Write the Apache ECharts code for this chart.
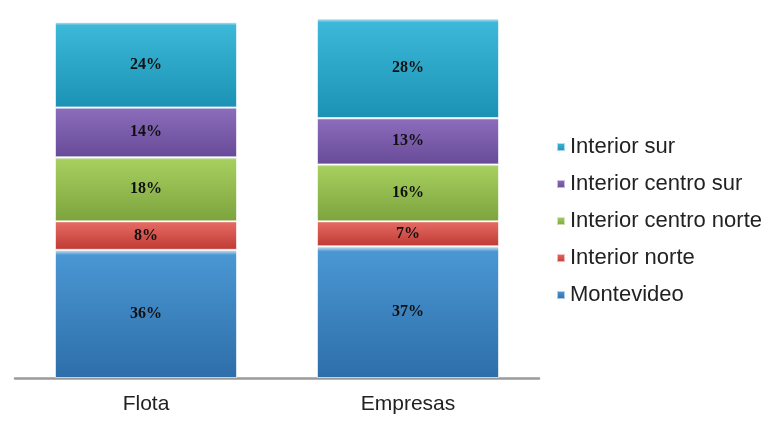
<!DOCTYPE html>
<html><head><meta charset="utf-8">
<script src="https://cdn.jsdelivr.net/npm/echarts@6/dist/echarts.min.js"></script>
<style>html,body{margin:0;padding:0;background:#fff}#c{width:773px;height:421px}</style>
</head><body><div id="c"></div>
<script>
const categories = ['Flota', 'Empresas'];
const montevideo = [36, 37];
const interiorNorte = [8, 7];
const interiorCentroNorte = [18, 16];
const interiorCentroSur = [14, 13];
const interiorSur = [24, 28];
const seriesNames = ['Montevideo', 'Interior norte', 'Interior centro norte', 'Interior centro sur', 'Interior sur'];
const legendOrder = ['Interior sur', 'Interior centro sur', 'Interior centro norte', 'Interior norte', 'Montevideo'];

const colors = [
  ['#4a97d3', '#2d6ea9'],
  ['#e56a64', '#bf3a33'],
  ['#a6cf5f', '#7da33d'],
  ['#8a6cba', '#674a98'],
  ['#3cb8d8', '#1b92b4']
];
const values = [montevideo, interiorNorte, interiorCentroNorte, interiorCentroSur, interiorSur];

function grad(c) {
  return new echarts.graphic.LinearGradient(0, 0, 0, 1, [
    {offset: 0, color: '#dfe8f2'},
    {offset: 0.04, color: c[0]},
    {offset: 1, color: c[1]}
  ]);
}

const series = seriesNames.map((n, i) => ({
  name: n,
  type: 'bar',
  stack: 'total',
  barWidth: 182,
  data: values[i],
  itemStyle: {color: grad(colors[i]), borderColor: 'rgba(255,255,255,0.6)', borderWidth: 1},
  label: {
    show: true, position: 'inside', formatter: '{c}%',
    fontFamily: 'Liberation Serif', fontWeight: 'bold', fontSize: 16, color: '#111'
  }
}));

const chart = echarts.init(document.getElementById('c'));
chart.setOption({
  animation: false,
  color: colors.map(c => c[1]),
  grid: {left: 15, right: 234, top: 18.4, bottom: 43},
  xAxis: {
    type: 'category', data: categories,
    axisLine: {lineStyle: {color: '#9a9a9a', width: 2.5}},
    axisTick: {show: false},
    axisLabel: {fontFamily: 'Liberation Sans', fontSize: 21, color: '#222', margin: 16}
  },
  yAxis: {type: 'value', min: 0, max: 101, show: false, splitLine: {show: false}},
  legend: {
    orient: 'vertical', left: 551, top: 131, itemGap: 15,
    itemWidth: 8, itemHeight: 8, icon: 'rect',
    data: legendOrder,
    textStyle: {fontFamily: 'Liberation Sans', fontSize: 22, color: '#222', padding: [0, 0, 0, 0]}
  },
  series: series
});
</script></body></html>
